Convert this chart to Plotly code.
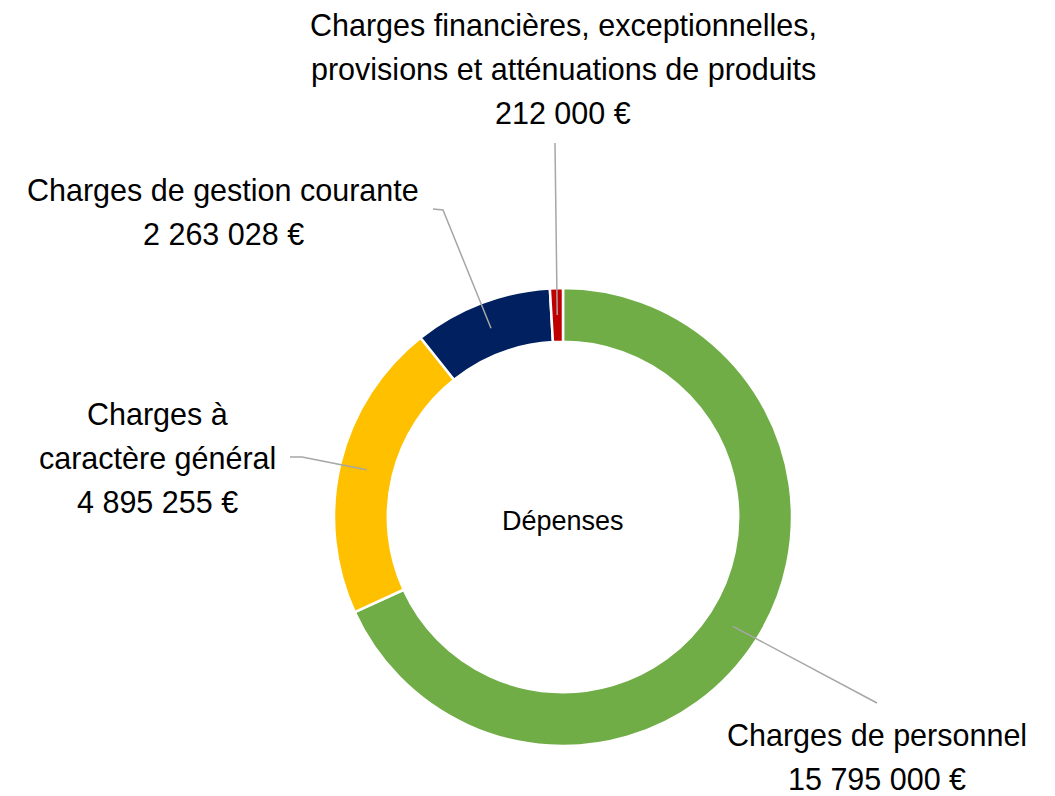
import math
import plotly.graph_objects as go

# données
categories = [
    "Charges de personnel",
    "Charges à caractère général",
    "Charges de gestion courante",
    "Charges financières, exceptionnelles, provisions et atténuations de produits",
]
valeurs = [15795000, 4895255, 2263028, 212000]
# libellés tels qu'affichés (retours à la ligne)
libelles = [
    ["Charges de personnel"],
    ["Charges à", "caractère général"],
    ["Charges de gestion courante"],
    ["Charges financières, exceptionnelles,", "provisions et atténuations de produits"],
]
couleurs = ["#70AD47", "#FFC000", "#002060", "#C00000"]
titre_centre = "Dépenses"

# mise en page (pixels de la page)
W, H = 1055, 796
OFF = 8  # marge par défaut du <body>
CX, CY, R_OUT = 563, 517, 229
HOLE = 0.765
R_MID = R_OUT * (1 + HOLE) / 2
FONT = "Liberation Sans, Arial, sans-serif"
FS = 30.5
LINE_H = 44

# position des étiquettes : centre x, ligne de base de la 1re ligne, coude de la ligne de rappel
etiquettes = [
    dict(x=877, base=748, coude=[(877, 703)]),
    dict(x=157, base=427, coude=[(302, 457), (290, 457)]),
    dict(x=223, base=203, coude=[(443, 210), (433, 209)]),
    dict(x=563, base=38, coude=[(555, 143)]),
]


def fmt_euro(v):
    return f"{v:,}".replace(",", " ") + " €"


fig = go.Figure()

fig.add_trace(go.Pie(
    labels=categories,
    values=valeurs,
    hole=HOLE,
    sort=False,
    direction="clockwise",
    rotation=0,
    marker=dict(colors=couleurs, line=dict(color="white", width=2.5)),
    textinfo="none",
    hoverinfo="label+value",
    showlegend=False,
    domain=dict(
        x=[(CX - OFF - R_OUT) / W, (CX - OFF + R_OUT) / W],
        y=[1 - (CY - OFF + R_OUT) / H, 1 - (CY - OFF - R_OUT) / H],
    ),
))

# lignes de rappel et textes sur des axes invisibles en pixels
total = sum(valeurs)
cumul = 0
shapes = []
annotations = []
for i, v in enumerate(valeurs):
    theta = 2 * math.pi * (cumul + v / 2) / total
    cumul += v
    x0 = CX + R_MID * math.sin(theta)
    y0 = CY - R_MID * math.cos(theta)
    pts = [(x0, y0)] + etiquettes[i]["coude"]
    path = "M " + " L ".join(f"{px:.1f},{py:.1f}" for px, py in pts)
    shapes.append(dict(type="path", xref="x", yref="y", path=path,
                       line=dict(color="#A6A6A6", width=1.5)))

    lignes = libelles[i] + [fmt_euro(v)]
    for k, txt in enumerate(lignes):
        annotations.append(dict(
            x=etiquettes[i]["x"], y=etiquettes[i]["base"] + k * LINE_H - 13,
            xref="x", yref="y", text=txt, showarrow=False,
            xanchor="center", yanchor="middle",
            font=dict(family=FONT, size=FS, color="black"),
        ))

annotations.append(dict(
    x=CX, y=521, xref="x", yref="y", text=titre_centre, showarrow=False,
    xanchor="center", yanchor="middle",
    font=dict(family=FONT, size=27, color="black"),
))

fig.update_layout(
    width=W, height=H,
    margin=dict(l=0, r=0, t=0, b=0),
    paper_bgcolor="white",
    plot_bgcolor="rgba(0,0,0,0)",
    xaxis=dict(range=[OFF, W + OFF], visible=False, fixedrange=True, domain=[0, 1]),
    yaxis=dict(range=[H + OFF, OFF], visible=False, fixedrange=True, domain=[0, 1]),
    shapes=shapes,
    annotations=annotations,
)

fig.write_html("out.html")
